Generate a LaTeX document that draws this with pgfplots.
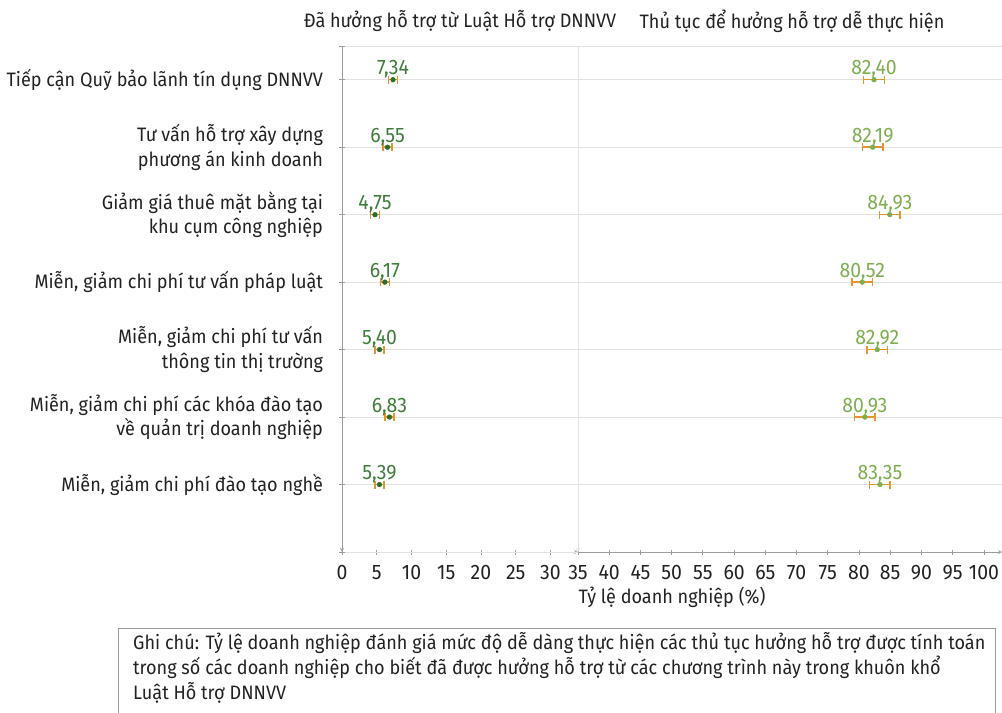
\documentclass[border=0pt]{standalone}
\usepackage{pgfplots}
\pgfplotsset{compat=1.18}
\usepackage{pgfplotstable}
\usepackage{fontspec}
\setmainfont{Fira Sans}[FakeStretch=0.93]
\definecolor{dkgreen}{HTML}{3E7D3A}
\definecolor{dkdot}{HTML}{2F6B2C}
\definecolor{ltgreen}{HTML}{7DAE4F}
\definecolor{orng}{HTML}{E8942C}
\definecolor{gridc}{HTML}{E2E2E2}
\definecolor{axc}{HTML}{9C9C9C}
\definecolor{txt}{HTML}{222222}

\pgfplotstableread{
y x e lab
0 7.34 0.65 7,34
1 6.55 0.65 6,55
2 4.75 0.65 4,75
3 6.17 0.65 6,17
4 5.40 0.65 5,40
5 6.83 0.65 6,83
6 5.39 0.65 5,39
}\leftdata
\pgfplotstableread{
y x e lab
0 82.40 1.65 82,40
1 82.19 1.65 82,19
2 84.93 1.65 84,93
3 80.52 1.65 80,52
4 82.92 1.65 82,92
5 80.93 1.65 80,93
6 83.35 1.65 83,35
}\rightdata

\newcommand{\catfont}{\fontsize{19.5}{24.5}\selectfont}
\newcommand{\numfont}{\fontsize{21}{21}\selectfont}

\pgfplotsset{
  base/.style={
    scale only axis, height=506bp,
    ymin=-0.5, ymax=7, y dir=reverse,
    tick align=outside, major tick length=5bp,
    tick style={axc, line width=0.8pt},
    axis line style={-, line width=0.8pt},
    ymajorgrids, major grid style={gridc, line width=0.8pt},
    /pgf/number format/assume math mode=true,
    tick label style={font=\numfont, text=txt},
    xticklabel style={yshift=-7bp},
    clip=false,
  },
  ebar/.style={draw=none, mark=none,
    error bars/.cd, x dir=both, x explicit,
    error mark=none,
    error bar style={draw=orng, line width=1.5pt}},
  ecap/.style={only marks, mark=|, mark size=4bp,
    mark options={draw=orng, line width=1.5pt}},
}

\begin{document}
\begin{tikzpicture}[x=1bp,y=1bp]
\useasboundingbox (0bp,0bp) rectangle (1002bp,713bp);

% left panel
\begin{axis}[base, at={(342bp,161bp)}, anchor=south west, width=236bp,
  xmin=0, xmax=33.96, xtick={0,5,...,30},
  axis x line=bottom, axis y line=left,
  x axis line style={axc}, y axis line style={axc},
  ytick={0,...,6},
  extra y ticks={-0.5,7}, extra y tick labels={},
  yticklabels={{Tiếp cận Quỹ bảo lãnh tín dụng DNNVV},
    {Tư vấn hỗ trợ xây dựng\\phương án kinh doanh},
    {Giảm giá thuê mặt bằng tại\\khu cụm công nghiệp},
    {Miễn, giảm chi phí tư vấn pháp luật},
    {Miễn, giảm chi phí tư vấn\\thông tin thị trường},
    {Miễn, giảm chi phí các khóa đào tạo\\về quản trị doanh nghiệp},
    {Miễn, giảm chi phí đào tạo nghề}},
  yticklabel style={font=\catfont, align=right, xshift=-13bp},
]
\addplot[ebar] table[x=x, y=y, x error=e] {\leftdata};
\addplot[ecap] table[x expr=\thisrow{x}-\thisrow{e}, y=y] {\leftdata};
\addplot[ecap] table[x expr=\thisrow{x}+\thisrow{e}, y=y] {\leftdata};
\addplot[only marks, mark=*, mark size=2.4bp, mark options={fill=dkdot, draw=dkdot},
  point meta=explicit symbolic,
  nodes near coords, nodes near coords style={font=\numfont, text=dkgreen, anchor=base, yshift=5bp}]
  table[x=x, y=y, meta=lab] {\leftdata};
\end{axis}

% right panel
\begin{axis}[base, at={(578bp,161bp)}, anchor=south west, width=424bp,
  xmin=35, xmax=102.9, xtick={35,40,...,100},
  axis x line=bottom, axis y line=left,
  x axis line style={axc}, y axis line style={gridc},
  ytick={0,...,6}, yticklabels={},
  extra y ticks={-0.5}, extra y tick labels={},
  y tick style={draw=none},
]
\addplot[ebar] table[x=x, y=y, x error=e] {\rightdata};
\addplot[ecap] table[x expr=\thisrow{x}-\thisrow{e}, y=y] {\rightdata};
\addplot[ecap] table[x expr=\thisrow{x}+\thisrow{e}, y=y] {\rightdata};
\addplot[only marks, mark=*, mark size=2.4bp, mark options={fill=ltgreen, draw=ltgreen},
  point meta=explicit symbolic,
  nodes near coords, nodes near coords style={font=\numfont, text=ltgreen, anchor=base, yshift=5bp}]
  table[x=x, y=y, meta=lab] {\rightdata};
\end{axis}

% panel titles
\node[font=\catfont, text=txt] at (460bp,692bp) {Đã hưởng hỗ trợ từ Luật Hỗ trợ DNNVV};
\node[font=\catfont, text=txt] at (792bp,692bp) {Thủ tục để hưởng hỗ trợ dễ thực hiện};
% x label
\node[font=\catfont, text=txt] at (672bp,116bp) {Tỷ lệ doanh nghiệp (\%)};

% note box
\draw[axc, line width=1pt] (118bp,-10bp) -- (118bp,85bp) -- (995bp,85bp) -- (995bp,-10bp);
\node[font=\catfont, text=txt, anchor=base west, inner sep=0] at (133bp,63bp) {Ghi chú: Tỷ lệ doanh nghiệp đánh giá mức độ dễ dàng thực hiện các thủ tục hưởng hỗ trợ được tính toán};
\node[font=\catfont, text=txt, anchor=base west, inner sep=0] at (133bp,39bp) {trong số các doanh nghiệp cho biết đã được hưởng hỗ trợ từ các chương trình này trong khuôn khổ};
\node[font=\catfont, text=txt, anchor=base west, inner sep=0] at (133bp,14bp) {Luật Hỗ trợ DNNVV};
\end{tikzpicture}
\end{document}
